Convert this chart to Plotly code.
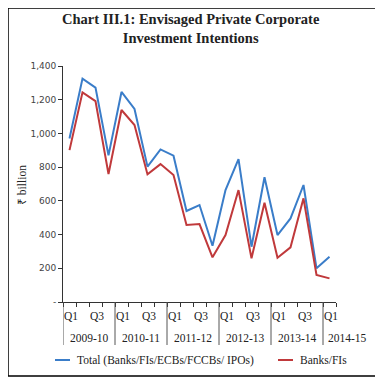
import plotly.graph_objects as go

quarters = ["Q1", "Q2", "Q3", "Q4"] * 5 + ["Q1"]
years = ["2009-10", "2010-11", "2011-12", "2012-13", "2013-14", "2014-15"]
total = [970, 1325, 1272, 870, 1246, 1145, 803, 905, 868, 540, 575,
         334, 664, 848, 328, 740, 397, 496, 694, 200, 269]
banks = [901, 1244, 1192, 759, 1139, 1050, 757, 818, 753, 457, 462,
         265, 397, 664, 259, 589, 263, 324, 615, 160, 140]
yticks = [0, 200, 400, 600, 800, 1000, 1200, 1400]
yticktext = ["-", "200", "400", "600", "800", "1,000", "1,200", "1,400"]
names = ["Total (Banks/FIs/ECBs/FCCBs/ IPOs)", "Banks/FIs"]
colors = ["#3A7DC9", "#C0393B"]

n = len(total)
xs = [i + 0.5 for i in range(n)]

OFF = 8  # page body margin
W, H = 383 - OFF, 385 - OFF
# desired page-pixel positions of plot area
PL, PR, PT, PB = 63, 336, 66, 302
L, T = PL - OFF, PT - OFF
R = W - (PR - OFF)
B = H - (PB - OFF)
pw, ph = PR - PL, PB - PT
def px(xp):
    return (xp - PL) / pw
def py(yp):
    return (PB - yp) / ph

serif = "Liberation Serif"
sans = "DejaVu Sans"

fig = go.Figure()
for vals, nm, c in zip([total, banks], names, colors):
    fig.add_trace(go.Scatter(x=xs, y=vals, mode="lines", name=nm,
                             line=dict(color=c, width=2), showlegend=False))

shapes = []
annotations = []
for k in range(0, n, 4):
    shapes.append(dict(type="line", xref="x", yref="paper", x0=k, x1=k,
                       y0=0, y1=py(345), line=dict(color="#555", width=1)))
for i, q in enumerate(quarters):
    if q in ("Q1", "Q3"):
        annotations.append(dict(x=xs[i] + 0.15, y=py(316), xref="x", yref="paper",
                                text=q, showarrow=False, yanchor="middle",
                                font=dict(family=serif, size=11.5, color="#222")))
for j, yr in enumerate(years):
    start = j * 4
    end = min(start + 4, n)
    if end - start == 4:
        annotations.append(dict(x=(start + end) / 2, y=py(338), xref="x", yref="paper",
                                text=yr, showarrow=False, yanchor="middle",
                                font=dict(family=serif, size=11.5, color="#222")))
    else:
        annotations.append(dict(x=start + 0.2, y=py(338), xref="x", yref="paper",
                                text=yr, showarrow=False, xanchor="left", yanchor="middle",
                                font=dict(family=serif, size=11.5, color="#222")))
leg_x = [55, 278]
for nm, c, lx in zip(names, colors, leg_x):
    shapes.append(dict(type="line", xref="paper", yref="paper",
                       x0=px(lx), x1=px(lx + 15), y0=py(360), y1=py(360),
                       line=dict(color=c, width=2)))
    annotations.append(dict(x=px(lx + 20), y=py(360), xref="paper", yref="paper",
                            text=nm, showarrow=False, xanchor="left", yanchor="middle",
                            font=dict(family=serif, size=11.5, color="#222")))
shapes.append(dict(type="rect", xref="paper", yref="paper",
                   x0=px(8), x1=px(376), y0=py(376), y1=py(8),
                   line=dict(color="black", width=1.5)))
annotations.append(dict(x=px(191), y=py(29), xref="paper", yref="paper",
                        text="<b>Chart III.1: Envisaged Private Corporate<br>Investment Intentions</b>",
                        showarrow=False, yanchor="middle", xanchor="center",
                        font=dict(family=serif, size=14.5, color="#222")))
annotations.append(dict(x=px(22), y=py(185), xref="paper", yref="paper",
                        text="₹ billion", textangle=-90, showarrow=False,
                        xanchor="center", yanchor="middle",
                        font=dict(family=serif, size=11.5, color="#222")))

fig.update_layout(
    width=W, height=H, margin=dict(l=L, r=R, t=T, b=B),
    paper_bgcolor="white", plot_bgcolor="white",
    shapes=shapes, annotations=annotations,
    xaxis=dict(range=[0, n], tickvals=list(range(n + 1)), ticktext=[""] * (n + 1),
               ticks="outside", ticklen=4, tickcolor="#333", showline=True,
               linecolor="#333", linewidth=1, showgrid=False, zeroline=False),
    yaxis=dict(range=[0, 1400], tickvals=yticks, ticktext=yticktext,
               ticks="outside", ticklen=4, tickcolor="#333", showline=True,
               linecolor="#333", linewidth=1, showgrid=False, zeroline=False,
               tickfont=dict(family=sans, size=9, color="#444")),
)
fig.write_html("out.html")
